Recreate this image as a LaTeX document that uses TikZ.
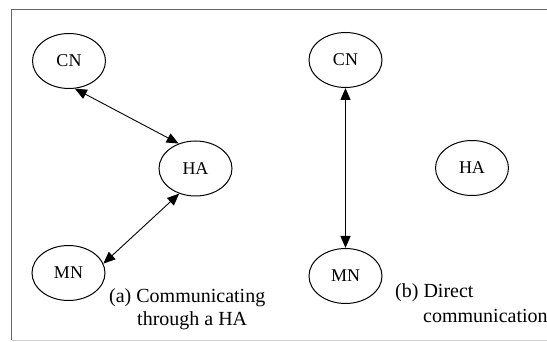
\documentclass[tikz,border=0pt]{standalone}
\usepackage{fontspec}
\setmainfont{Liberation Serif}
\usetikzlibrary{shapes.geometric,arrows.meta}
\begin{document}
\begin{tikzpicture}[x=1pt,y=-1pt,
  host/.style={draw,ellipse,line width=1pt,minimum width=73pt,minimum height=55pt,
    inner sep=0pt,font=\fontsize{18}{18}\selectfont},
  link/.style={line width=0.9pt,
    {Triangle[length=12pt,width=10pt]}-{Triangle[length=12pt,width=10pt]}},
  caption/.style={anchor=base west,inner sep=0pt,font=\fontsize{20}{20}\selectfont}]
\useasboundingbox (0,0) rectangle (547,342);
\fill[white] (0,0) rectangle (547,342);
% frame
\draw[black!60,line width=1pt] (560,10) -- (11.5,10) -- (11.5,340);
\draw[black!18,line width=1pt] (11.5,340) -- (560,340);
% (a) communicating through a HA
\node[host] (cna) at (69,61) {CN};
\node[host] (haa) at (195.5,168.5) {HA};
\node[host] (mna) at (68.5,273) {MN};
\draw[link] (cna.-78) -- (haa.124);
\draw[link] (haa.-123) -- (mna.15);
\node[caption] (capa1) at (109,302) {(a) Communicating};
\node[caption] (capa2) at (137,326) {through a HA};
% (b) direct communication
\node[host] (cnb) at (345.5,60) {CN};
\node[host] (hab) at (472,168) {HA};
\node[host] (mnb) at (345.5,276) {MN};
\draw[link,line width=1.3pt] (cnb.south) -- (mnb.north);
\node[caption] (capb1) at (395,298) {(b) Direct};
\node[caption] (capb2) at (423,323) {communication};
\end{tikzpicture}
\end{document}
